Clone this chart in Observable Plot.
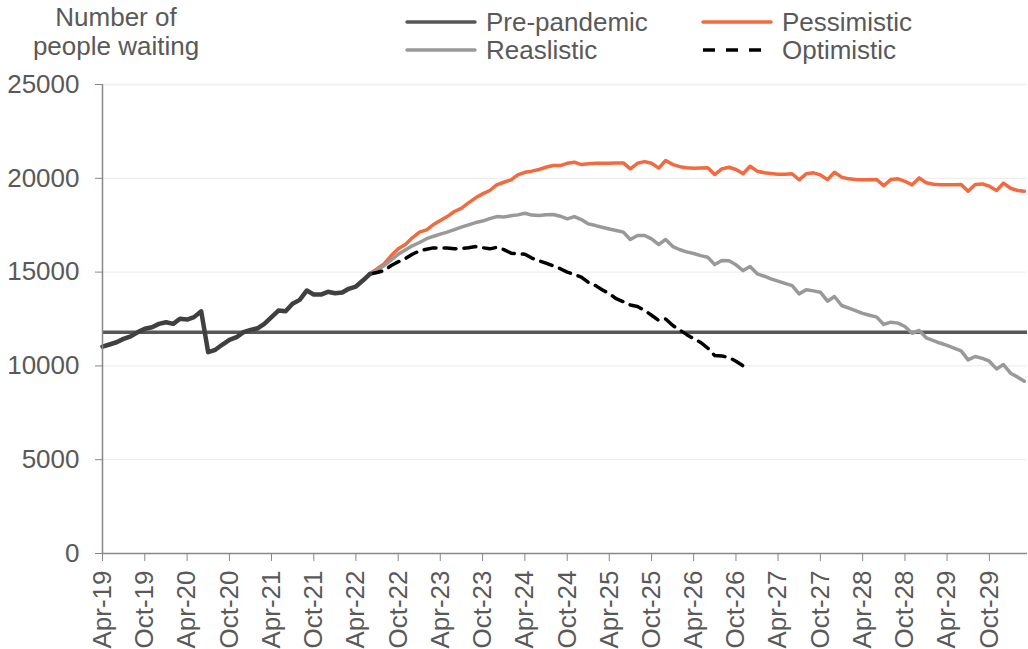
<!DOCTYPE html>
<html><head><meta charset="utf-8">
<script src="https://cdn.jsdelivr.net/npm/d3@7"></script>
<script src="https://cdn.jsdelivr.net/npm/@observablehq/plot@0.6"></script>
<style>
body{margin:0;background:#fff;}
#wrap{position:relative;width:1028px;height:649px;font-family:"Liberation Sans",Arial,sans-serif;color:#595959;overflow:hidden;}
#chart{position:absolute;left:0;top:0;}
#ytitle{position:absolute;left:16px;top:3px;width:200px;text-align:center;font-size:26px;line-height:29px;}
.leg{position:absolute;font-size:26px;line-height:28px;display:flex;align-items:center;white-space:nowrap;}
.leg svg{margin-right:9px;}
</style></head>
<body>
<div id="wrap">
  <div id="chart"></div>
  <div id="ytitle"></div>
  <div id="legend"></div>
</div>
<script>
// ---- data ----
const startMonth = "2019-04-01";          // first monthly observation (Apr-19)
const scenarioStartIndex = 38;            // scenarios start at Jun-22
const prePandemic = 11800;
const historic = [
  11030, 11140, 11260, 11440, 11570, 11800, 11980, 12060, 12240, 12330,
  12240, 12510, 12470, 12600, 12910, 10730, 10860, 11140, 11390, 11530,
  11800, 11920, 12010, 12240, 12600, 12950, 12910, 13310, 13520, 14020,
  13800, 13800, 13950, 13870, 13910, 14110, 14230, 14550, 14910
];
const pessimistic = [
  14910, 15170, 15440, 15880, 16240, 16470, 16830, 17130, 17250, 17520,
  17750, 17960, 18230, 18400, 18690, 18960, 19170, 19350, 19650, 19790,
  19920, 20180, 20320, 20380, 20470, 20590, 20680, 20680, 20800, 20860,
  20730, 20770, 20800, 20800, 20800, 20820, 20820, 20500, 20800, 20890,
  20800, 20540, 20950, 20730, 20620, 20560, 20540, 20550, 20560, 20200,
  20500, 20590, 20470, 20240, 20640, 20380, 20300, 20260, 20220, 20220,
  20240, 19920, 20240, 20290, 20180, 19930, 20320, 20060, 19970, 19930,
  19920, 19920, 19930, 19610, 19930, 19970, 19840, 19650, 20020, 19760,
  19680, 19650, 19650, 19660, 19670, 19310, 19670, 19700, 19580, 19350,
  19740, 19470, 19350, 19310
];
const realistic = [
  14910, 15100, 15350, 15650, 15950, 16180, 16400, 16580, 16780, 16900,
  17020, 17130, 17260, 17400, 17520, 17640, 17720, 17850, 17960, 17940,
  18000, 18050, 18140, 18040, 18020, 18060, 18070, 17980, 17840, 17960,
  17800, 17570, 17480, 17390, 17300, 17220, 17130, 16740, 16950, 16950,
  16770, 16470, 16740, 16360, 16190, 16080, 15990, 15880, 15790, 15400,
  15620, 15600, 15390, 15080, 15300, 14910, 14780, 14640, 14520, 14400,
  14280, 13840, 14060, 14000, 13930, 13450, 13700, 13220, 13080, 12950,
  12800, 12700, 12600, 12210, 12330, 12280, 12100, 11740, 11890, 11500,
  11350, 11220, 11090, 10950, 10800, 10320, 10500, 10400, 10250, 9840,
  10070, 9610, 9400, 9180
];
const optimistic = [
  14900, 14980, 15080, 15350, 15550, 15720, 15950, 16130, 16220, 16290,
  16290, 16290, 16240, 16260, 16300, 16360, 16300, 16240, 16320, 16200,
  16010, 15980, 15950, 15750, 15600, 15480, 15330, 15180, 15000, 14880,
  14730, 14450, 14280, 14060, 13850, 13580, 13420, 13250, 13170, 12950,
  12700, 12420, 12500, 12150, 11900, 11680, 11450, 11250, 10950, 10550,
  10530, 10450, 10250, 10000
];
const yTicks = [0, 5000, 10000, 15000, 20000, 25000];
const xTickLabels = ["Apr-19","Oct-19","Apr-20","Oct-20","Apr-21","Oct-21","Apr-22","Oct-22",
  "Apr-23","Oct-23","Apr-24","Oct-24","Apr-25","Oct-25","Apr-26","Oct-26","Apr-27","Oct-27",
  "Apr-28","Oct-28","Apr-29","Oct-29"];
const xDomainEnd = "2030-03-15";
const seriesNames = ["Pre-pandemic","Pessimistic","Reaslistic","Optimistic"];
const seriesColors = ["#575757","#f26a3d","#999999","#000000"];
const yTitle = ["Number of","people waiting"];

// ---- build ----
const start = new Date(startMonth);
const month = i => d3.utcMonth.offset(start, i);
const histData = historic.map((v,i)=>({date:month(i), value:v}));
const scen = arr => arr.map((v,i)=>({date:month(scenarioStartIndex+i), value:v}));
const parseTick = d3.utcParse("%b-%y");
const xTicks = xTickLabels.map(parseTick);
const fmtTick = d3.utcFormat("%b-%y");

const chart = Plot.plot({
  width:1028, height:649,
  marginLeft:102, marginRight:1, marginTop:84, marginBottom:96,
  style:{fontFamily:'"Liberation Sans", Arial, sans-serif', fontSize:"26px", color:"#595959", background:"white", overflow:"visible"},
  x:{type:"utc", domain:[start, new Date(xDomainEnd)]},
  y:{domain:[0,25000]},
  marks:[
    Plot.gridY(yTicks.filter(d=>d>0), {stroke:"#eeeeee", strokeOpacity:1, strokeWidth:1.3}),
    Plot.ruleY([prePandemic], {stroke:seriesColors[0], strokeWidth:3.5}),
    Plot.lineY(scen(pessimistic), {x:"date", y:"value", stroke:seriesColors[1], strokeWidth:3.5, strokeLinejoin:"round"}),
    Plot.lineY(scen(realistic), {x:"date", y:"value", stroke:seriesColors[2], strokeWidth:3.5, strokeLinejoin:"round"}),
    Plot.lineY(scen(optimistic), {x:"date", y:"value", stroke:seriesColors[3], strokeWidth:3.5, strokeDasharray:"12,8"}),
    Plot.lineY(histData, {x:"date", y:"value", stroke:"#404040", strokeWidth:4.5, strokeLinejoin:"round"}),
    Plot.ruleX([start], {stroke:"#888888", strokeWidth:1.5}),
    Plot.ruleY([0], {stroke:"#888888", strokeWidth:1.5}),
    Plot.axisY({ticks:yTicks, tickSize:7, tickPadding:16, tickFormat:d3.format("d"), stroke:"#888888", fill:"#595959", label:null}),
    Plot.axisX({ticks:xTicks, tickSize:8, tickPadding:9, tickRotate:-90, tickFormat:fmtTick, stroke:"#888888", fill:"#595959", label:null})
  ]
});
document.getElementById("chart").appendChild(chart);

document.getElementById("ytitle").innerHTML = yTitle.join("<br>");

const legendPos = [[405,8],[701,8],[405,36],[701,36]];
const legend = document.getElementById("legend");
seriesNames.forEach((name,i)=>{
  const d = document.createElement("div");
  d.className = "leg";
  d.style.left = legendPos[i][0]+"px";
  d.style.top = legendPos[i][1]+"px";
  const dash = name==="Optimistic" ? ' stroke-dasharray="12,11" stroke-linecap="butt"' : ' stroke-linecap="round"';
  d.innerHTML = `<svg width="72" height="8"><line x1="2" x2="70" y1="4" y2="4" stroke="${seriesColors[i]}" stroke-width="3.5"${dash}/></svg><span>${name}</span>`;
  legend.appendChild(d);
});
</script>
</body></html>
